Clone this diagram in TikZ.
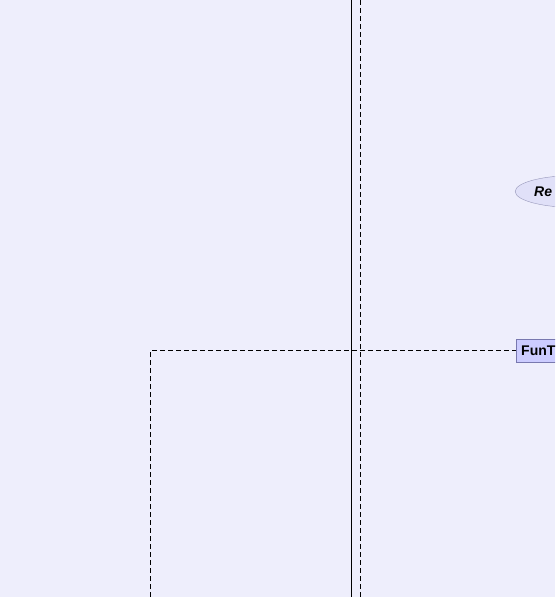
\documentclass[tikz,border=0pt]{standalone}
\usepackage{fontspec}
\setmainfont{Liberation Sans}
\usetikzlibrary{shapes.geometric}
\definecolor{bg}{RGB}{238,238,252}
\definecolor{ellfill}{RGB}{224,224,248}
\definecolor{ellline}{RGB}{150,150,185}
\definecolor{boxfill}{RGB}{204,204,255}
\definecolor{boxline}{RGB}{120,120,175}
\tikzset{
  lifedash/.style={draw=black, line width=0.8pt, dash pattern=on 5pt off 3pt},
  solidline/.style={draw=black, line width=1pt},
  usecase/.style={ellipse, draw=ellline, fill=ellfill, minimum width=120pt, minimum height=32pt, inner sep=0pt},
  classbox/.style={rectangle, draw=boxline, fill=boxfill, minimum height=23pt, minimum width=80pt, inner sep=0pt},
}
\begin{document}
\begin{tikzpicture}[x=1pt,y=-1pt]
\fill[bg] (0,0) rectangle (555,597);
\useasboundingbox (0,0) rectangle (555,597);
\clip (0,0) rectangle (555,597);
\coordinate (st) at (351,0);
\coordinate (sb) at (351,597);
\coordinate (dt) at (360,0);
\coordinate (db) at (360,597);
\coordinate (corner) at (150.5,350.5);
\coordinate (lb) at (150.5,597);
\draw[solidline] (st) -- (sb);
\draw[lifedash] (dt) -- (db);
\node[usecase, anchor=west] (re) at (515,191.5) {};
\node[anchor=west, font=\bfseries\itshape\fontsize{14}{16}\selectfont, inner sep=0pt] (retext) at (534,191.5) {Re};
\node[classbox, anchor=west] (funt) at (515.5,350.5) {};
\node[anchor=west, font=\bfseries\fontsize{14}{16}\selectfont, inner sep=0pt] (funttext) at (521,350.5) {FunT};
\draw[lifedash] (lb) -- (corner) -- (funt.west);
\end{tikzpicture}
\end{document}
